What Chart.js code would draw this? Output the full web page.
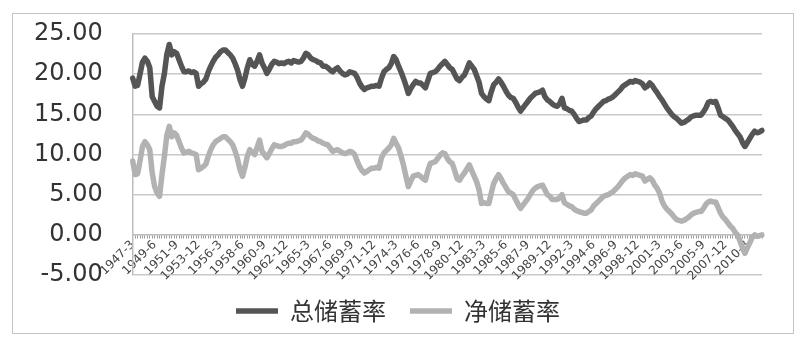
<!DOCTYPE html>
<html>
<head>
<meta charset="utf-8">
<script src="https://cdn.jsdelivr.net/npm/chart.js@4"></script>
<style>
  body { margin: 0; background: #fff; }
  #frame { position: absolute; left: 12px; top: 13px; width: 780px; height: 319px; border: 1px solid #c4c4c4; }
  #frame canvas { position: absolute; left: 0; top: 0; }
</style>
</head>
<body>
<div id="frame"><canvas id="chart-saving" width="780" height="319"></canvas></div>
<script>
(function () {
// quarterly series, first quarter = 1947-3
const startYear = 1947;
const quarterMonths = [3, 6, 9, 12];
const labelStep = 9;
const yTicks = { min: -5, max: 25, step: 5 };
const seriesNames = ['总储蓄率', '净储蓄率'];

const grossSaving = [
    19.5, 18.5, 18.6, 20.0, 21.5, 22.0, 21.6, 20.8, 17.2,
    16.6, 16.0, 15.8, 18.5, 20.1, 22.5, 23.7, 22.4, 22.8,
    22.6, 21.8, 21.0, 20.3, 20.3, 20.4, 20.2, 20.3, 20.1,
    18.5, 18.8, 19.0, 19.4, 20.3, 21.0, 21.6, 22.1, 22.4,
    22.8, 23.0, 23.0, 22.7, 22.4, 22.0, 21.3, 20.5, 19.3,
    18.5, 19.5, 20.8, 21.8, 21.2, 21.0, 21.6, 22.4, 21.4,
    20.8, 20.1, 20.6, 21.2, 21.6, 21.5, 21.3, 21.4, 21.3,
    21.5, 21.6, 21.4, 21.7, 21.6, 21.5, 21.6, 22.0, 22.6,
    22.4, 22.0, 21.8, 21.7, 21.5, 21.4, 21.0, 21.0, 20.8,
    20.5, 20.3, 20.6, 20.8, 20.4, 20.1, 19.9, 20.0, 20.3,
    20.2, 20.1, 19.6, 18.9, 18.4, 18.1, 18.3, 18.4, 18.5,
    18.5, 18.6, 18.5, 19.5, 20.3, 20.6, 20.8, 21.3, 22.2,
    21.8, 21.0, 20.3, 19.5, 18.6, 17.6, 18.2, 18.7, 19.1,
    18.9, 18.9, 18.6, 18.3, 19.2, 20.1, 20.2, 20.3, 20.6,
    21.0, 21.3, 21.6, 21.2, 20.8, 20.6, 20.0, 19.4, 19.2,
    19.6, 19.9, 20.6, 21.4, 21.0, 20.6, 19.8, 19.0, 17.6,
    17.2, 16.9, 16.7, 17.8, 18.7, 19.0, 19.4, 19.0, 18.5,
    17.9, 17.4, 17.1, 17.0, 16.5, 15.9, 15.4, 15.8, 16.2,
    16.6, 17.0, 17.3, 17.6, 17.7, 17.8, 18.0, 17.2, 16.8,
    16.6, 16.3, 16.1, 16.0, 16.3, 17.0, 15.8, 15.7, 15.5,
    15.4, 15.0, 14.5, 14.1, 14.2, 14.3, 14.3, 14.6, 14.8,
    15.3, 15.7, 16.0, 16.3, 16.6, 16.7, 16.9, 17.0, 17.2,
    17.5, 17.8, 18.1, 18.5, 18.7, 18.9, 19.1, 19.0, 19.2,
    19.1, 19.0, 18.8, 18.3, 18.5, 18.9, 18.6, 18.1, 17.7,
    17.2, 16.8, 16.3, 15.8, 15.4, 15.0, 14.7, 14.5, 14.2,
    13.9, 14.0, 14.2, 14.4, 14.7, 14.8, 14.9, 14.9, 14.9,
    15.3, 15.8, 16.5, 16.6, 16.5, 16.6, 15.8, 14.9, 14.7,
    14.5, 14.3, 13.9, 13.5, 13.0, 12.6, 12.2, 11.5, 11.0,
    11.5, 12.0, 12.5, 12.9, 12.7, 12.8, 13.0
];

const netSaving = [
    9.2, 7.5, 7.6, 9.2, 11.0, 11.6, 11.2, 10.6, 7.7,
    6.0, 5.2, 4.8, 7.5, 9.8, 12.4, 13.5, 12.2, 12.7,
    12.4, 11.6, 10.8, 10.2, 10.3, 10.4, 10.2, 10.1, 10.0,
    8.1, 8.3, 8.5, 8.8, 9.8, 10.6, 11.2, 11.6, 11.8,
    12.0, 12.2, 12.2, 11.9, 11.6, 11.2, 10.4, 9.4, 8.1,
    7.3, 8.4, 9.8, 10.6, 10.3, 10.0, 10.9, 11.8, 10.4,
    10.0, 9.6, 10.1, 10.7, 11.2, 11.1, 11.0, 11.0, 11.1,
    11.3, 11.4, 11.4, 11.6, 11.6, 11.7, 11.8, 12.2, 12.7,
    12.5, 12.2, 12.0, 11.9, 11.7, 11.6, 11.4, 11.3, 11.2,
    10.8, 10.4, 10.5, 10.6, 10.4, 10.2, 10.1, 10.2, 10.4,
    10.3, 10.0, 9.2, 8.5, 8.0, 7.7, 7.9, 8.1, 8.3,
    8.3, 8.4, 8.3, 9.6, 10.2, 10.5, 10.8, 11.2, 12.0,
    11.4, 10.8, 9.8, 8.7, 7.3, 6.0, 6.7, 7.3, 7.4,
    7.5, 7.3, 7.0, 6.8, 8.0, 8.9, 9.0, 9.1, 9.5,
    9.9, 10.2, 10.1, 9.5, 9.1, 8.9, 8.0, 7.0, 6.8,
    7.3, 7.7, 8.2, 8.7, 8.0, 7.3, 6.6, 5.6, 3.9,
    4.0, 3.9, 3.9, 5.2, 6.4, 7.0, 7.5, 7.0, 6.4,
    5.9, 5.4, 5.2, 5.0, 4.4, 3.8, 3.3, 3.7, 4.1,
    4.5, 5.0, 5.5, 5.8, 6.0, 6.1, 6.2, 5.6, 5.0,
    4.8, 4.4, 4.4, 4.4, 4.6, 5.0, 4.0, 3.8, 3.6,
    3.5, 3.2, 3.0, 2.9, 2.8, 2.7, 2.7, 2.9, 3.1,
    3.6, 3.9, 4.2, 4.5, 4.8, 4.9, 5.0, 5.2, 5.4,
    5.7, 6.0, 6.4, 6.8, 7.1, 7.3, 7.5, 7.4, 7.6,
    7.5, 7.4, 7.3, 6.7, 6.9, 7.1, 6.8, 6.2, 5.8,
    5.2, 4.2, 3.6, 3.2, 2.9, 2.6, 2.2, 1.9, 1.8,
    1.7, 1.8, 2.0, 2.2, 2.5, 2.7, 2.8, 2.9, 2.9,
    3.3, 3.8, 4.1, 4.2, 4.1, 4.1, 3.4, 2.7, 2.2,
    1.9, 1.5, 1.1, 0.8, 0.3, 0.0, -0.8, -1.6, -2.3,
    -1.6, -1.0, -0.3, 0.0, -0.2, -0.1, 0.0
];

const quarters = [];
for (let i = 0; i < grossSaving.length; i++) {
    const year = startYear + Math.floor(i / 4);
    quarters.push(year + '-' + quarterMonths[i % 4]);
}

const ctx = document.getElementById('chart-saving').getContext('2d');

const data = {
    labels: quarters,
    datasets: [
        {
            label: seriesNames[0],
            data: grossSaving,
            borderColor: '#555555',
            backgroundColor: '#555555',
            borderWidth: 5.5,
            pointRadius: 0,
            tension: 0,
            borderJoinStyle: 'round',
            borderCapStyle: 'round'
        },
        {
            label: seriesNames[1],
            data: netSaving,
            borderColor: '#b2b2b2',
            backgroundColor: '#b2b2b2',
            borderWidth: 5.5,
            pointRadius: 0,
            tension: 0,
            borderJoinStyle: 'round',
            borderCapStyle: 'round'
        }
    ]
};

const config = {
    type: 'line',
    data: data,
    options: {
        responsive: false,
        animation: false,
        layout: {
            padding: { top: 20, right: 31, bottom: 0, left: 21 }
        },
        plugins: {
            tooltip: { enabled: false },
            legend: {
                display: true,
                position: 'bottom',
                labels: {
                    usePointStyle: true,
                    pointStyle: 'line',
                    pointStyleWidth: 42,
                    padding: 24,
                    color: '#333',
                    font: { family: '"Noto Sans CJK SC"', size: 24 }
                }
            }
        },
        scales: {
            x: {
                position: { y: 0 },
                // labels sit inside the plot below the zero line, reserve no room for them
                afterFit: function (scale) {
                    scale.height = 0;
                    scale.paddingLeft = 0;
                    scale.paddingRight = 0;
                },
                grid: {
                    display: true,
                    drawOnChartArea: false,
                    drawTicks: true,
                    tickLength: 3,
                    color: '#9a9a9a'
                },
                border: { display: true, color: '#bdbdbd', width: 1.5 },
                ticks: {
                    autoSkip: false,
                    minRotation: 45,
                    maxRotation: 45,
                    padding: 0,
                    color: '#444',
                    font: { family: '"DejaVu Sans"', size: 12 },
                    callback: function (value, index) {
                        return index % labelStep === 0 ? quarters[index] : '';
                    }
                }
            },
            y: {
                min: yTicks.min,
                max: yTicks.max,
                // tick padding is counted twice in width and added to top/bottom, undo that
                afterFit: function (scale) {
                    const pad = scale.options.ticks.padding;
                    scale.width -= pad;
                    scale.paddingTop -= pad;
                    scale.paddingBottom -= pad;
                },
                grid: {
                    color: '#c8c8c8',
                    lineWidth: 1.5,
                    drawTicks: false
                },
                border: { display: true, color: '#bdbdbd', width: 1.5 },
                ticks: {
                    stepSize: yTicks.step,
                    padding: 30,
                    color: '#333',
                    font: { family: '"DejaVu Sans"', size: 24 },
                    callback: function (value) {
                        return value.toFixed(2);
                    }
                }
            }
        }
    }
};
new Chart(ctx, config);
})();
</script>
</body>
</html>
